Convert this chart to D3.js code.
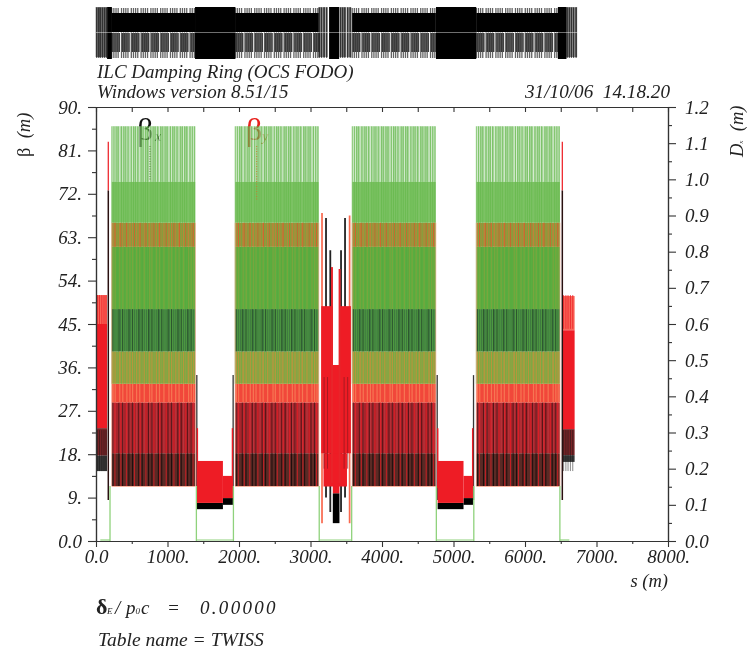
<!DOCTYPE html>
<html>
<head>
<meta charset="utf-8">
<script src="https://cdn.jsdelivr.net/npm/d3@7"></script>
<style>
  html, body { margin: 0; padding: 0; background: #fff; }
  svg { display: block; filter: blur(0.55px); }
  text { font-family: "Liberation Serif", serif; font-style: italic; fill: #222; }
  .tick text { font-size: 19px; }
</style>
</head>
<body>
<div id="chart"></div>
<script>
// ----------------------
// DATA
// ----------------------
const sTicks = [0, 1000, 2000, 3000, 4000, 5000, 6000, 7000, 8000];
const sLabels = ["0.0", "1000.", "2000.", "3000.", "4000.", "5000.", "6000.", "7000.", "8000."];
const sMinor = [500, 1500, 2500, 3500, 4500, 5500, 6500, 7500];
const betaTicks = [0, 9, 18, 27, 36, 45, 54, 63, 72, 81, 90];
const betaLabels = ["0.0", "9.", "18.", "27.", "36.", "45.", "54.", "63.", "72.", "81.", "90."];
const betaMinor = [4.5, 13.5, 22.5, 31.5, 40.5, 49.5, 58.5, 67.5, 76.5, 85.5];
const dispTicks = [0, 0.1, 0.2, 0.3, 0.4, 0.5, 0.6, 0.7, 0.8, 0.9, 1.0, 1.1, 1.2];
const dispMinor = [0.05, 0.15, 0.25, 0.35, 0.45, 0.55, 0.65, 0.75, 0.85, 0.95, 1.05, 1.15];

// the four FODO arcs: start of each, all the same length
const arcStarts = [220, 1946, 3583, 5319];
const arcLength = 1170;

// envelope levels in the arcs, bottom to top, and what is showing in each band
const bandLevels = [11.4, 18.2, 28.7, 32.6, 39.3, 48.1, 61, 66, 74.5, 86];
const bandColors = ["#5a2a25", "#a8242b", "#f1473a", "#97a044", "#3e7a40", "#58a93f", "#a28f3a", "#7cc264", "#62b54e"];

// cell positions inside one arc, metres from the arc start
const cellOffsets = [0, 30, 60, 90, 137, 167, 197, 227, 274, 304, 334, 364, 411, 441, 471, 501, 548, 578, 608, 638,
  685, 715, 745, 775, 822, 852, 882, 912, 959, 989, 1019, 1049, 1096, 1126, 1156];
const whiteGaps = [18, 48, 112, 155, 212, 255, 292, 348, 392, 455, 530, 562, 625, 668, 730, 800, 838, 895, 942, 1005, 1075, 1112, 1145];
const blackCells = [15, 100, 152, 240, 290, 378, 426, 515, 562, 652, 700, 788, 836, 925, 972, 1062, 1110];
const redCells = [45, 128, 205, 318, 398, 478, 590, 672, 762, 870, 948, 1035, 1138];

// wiggler straights: [s start, s end, betay top, betay bottom, betax bottom]
const wigglers = [
  [1412, 1775, 16.6, 7.9, 6.6], [1775, 1915, 13.5, 8.9, 7.5],
  [4778, 5140, 16.6, 7.9, 6.6], [5140, 5272, 13.5, 8.9, 7.5]
];
// D goes from zero up to the arc value at these points
const dispEdges = [196, 1404, 1922, 3122, 3576, 4760, 5284, 6488];
// D is zero along the straights
const dispZero = [[60, 196], [1404, 1922], [3122, 3576], [4760, 5284], [6488, 6620]];
// black lines at the ends of the wigglers: [s, top, bottom]
const xEdgeSpikes = [[1410, 34.4, 8.5], [1918, 34.4, 8.5], [4772, 34.4, 8.5], [5280, 34.4, 8.5]];
const yEdgeSpikes = [[1418, 23.4, 11], [1908, 23.4, 11], [4780, 23.4, 11], [5268, 23.4, 11]];

// injection / extraction ends: [s start, s end, pale top, solid top, dark top, grey top, bottom]
const endBlocks = [
  [0, 155, 51, 45, 23.4, 17.7, 14.5],
  [6518, 6694, 50.8, 43.7, 23.2, 17.8, 16.4]
];
const endStripes = [22, 50, 82, 112, 140, 6540, 6572, 6602, 6635, 6668];
// spikes next to the end blocks: [s, betay top, betax top, betax bottom]
const endSpikes = [[172, 82.8, 72.7, 8.5], [6522, 82.8, 72.7, 8.5]];

// centre straight
const centreBody = [[3150, 3312, 48.7, 18.2], [3405, 3565, 48.7, 18.2], [3312, 3405, 36.5, 9.9], [3182, 3510, 18.2, 11.3]];
const centreBlack = [[3312, 3405, 9.9, 3.7]];
const centreRedSpikes = [[3161, 68, 3.7], [3547, 67.5, 3.7], [3300, 56.8, 12], [3407, 56.4, 12]];
const centreBlackSpikes = [[3217, 67, 9], [3483, 67, 9], [3277, 60.3, 6], [3427, 60.3, 6]];
const centreDarkStripes = [3190, 3238, 3470, 3520];

// lattice strip, magnets outside the arcs
const stripSolid = [[1385, 1950], [4755, 5318], [155, 222], [3260, 3400], [6460, 6580]];
const stripEnds = [10, 38, 62, 90, 118, 145, 3125, 3155, 3190, 3225, 3420, 3450, 3480, 3520, 3555, 6590, 6620, 6650, 6680, 6715];

const width = 747, height = 650;
const margin = { top: 107, right: 79, bottom: 109, left: 96 };

const svg = d3.select("#chart").append("svg")
  .attr("width", width)
  .attr("height", height);

const x = d3.scaleLinear().domain([0, 8000]).range([margin.left, width - margin.right]);
const y = d3.scaleLinear().domain([0, 90]).range([height - margin.bottom, margin.top]);
const yD = d3.scaleLinear().domain([0, 1.2]).range([height - margin.bottom, margin.top]);

// vertical lines: rows are [s, top, bottom]
function vlines(rows, color, w, op) {
  svg.append("g").selectAll("line").data(rows).enter().append("line")
    .attr("x1", d => x(d[0])).attr("x2", d => x(d[0]))
    .attr("y1", d => y(d[1])).attr("y2", d => y(d[2]))
    .attr("stroke", color).attr("stroke-width", w).attr("opacity", op);
}
// blocks: rows are [s0, s1, top, bottom]
function blocks(rows, color, op) {
  svg.append("g").selectAll("rect").data(rows).enter().append("rect")
    .attr("x", d => x(d[0]))
    .attr("width", d => x(d[1]) - x(d[0]))
    .attr("y", d => y(d[2]))
    .attr("height", d => y(d[3]) - y(d[2]))
    .attr("fill", color).attr("opacity", op);
}
// repeat offsets over all four arcs
function inArcs(offsets, top, bottom) {
  return arcStarts.flatMap(a => offsets.map(o => [a + o, top, bottom]));
}

// ----------------------
// LATTICE STRIP
// ----------------------
const stripTop = 7, stripMid = 32, stripBot = 59;
const strip = svg.append("g");
const latticeCells = arcStarts.flatMap(a => cellOffsets.map(o => a + o));
strip.selectAll(".tip").data(latticeCells.concat(stripEnds)).enter().append("line")
  .attr("x1", d => x(d)).attr("x2", d => x(d))
  .attr("y1", stripTop + 1).attr("y2", stripBot - 1)
  .attr("stroke", "#222").attr("stroke-width", 1.3).attr("opacity", 0.7);
strip.selectAll(".core").data(latticeCells).enter().append("line")
  .attr("x1", d => x(d) + 1.1).attr("x2", d => x(d) + 1.1)
  .attr("y1", stripMid + 1).attr("y2", stripBot - 7)
  .attr("stroke", "#111").attr("stroke-width", 1.5).attr("opacity", 0.8);
strip.selectAll(".bar").data(arcStarts).enter().append("rect")
  .attr("x", d => x(d)).attr("width", x(arcLength) - x(0))
  .attr("y", 13).attr("height", stripMid - 13).attr("fill", "#000");
strip.selectAll(".solid").data(stripSolid).enter().append("rect")
  .attr("x", d => x(d[0])).attr("width", d => x(d[1]) - x(d[0]))
  .attr("y", stripTop).attr("height", stripBot - stripTop).attr("fill", "#000");
strip.selectAll(".endbar").data(stripEnds).enter().append("line")
  .attr("x1", d => x(d)).attr("x2", d => x(d))
  .attr("y1", stripTop).attr("y2", stripBot - 2)
  .attr("stroke", "#222").attr("stroke-width", 2).attr("opacity", 0.75);
strip.append("line")
  .attr("x1", x(0)).attr("x2", x(6735)).attr("y1", stripMid + 0.5).attr("y2", stripMid + 0.5)
  .attr("stroke", "#fff").attr("stroke-width", 0.8).attr("opacity", 0.55);

// ----------------------
// LEGEND (green bands are laid over it further down)
// ----------------------
svg.append("text").attr("x", 137).attr("y", 140).text("β")
  .style("font-size", "32px").style("font-style", "normal").style("fill", "#111");
svg.append("text").attr("x", 155).attr("y", 141).text("x")
  .style("font-size", "14px").style("fill", "#111");
svg.append("text").attr("x", 246).attr("y", 140).text("β")
  .style("font-size", "32px").style("font-style", "normal").style("fill", "#e8201c");
svg.append("text").attr("x", 262).attr("y", 141).text("y")
  .style("font-size", "14px").style("fill", "#d8602a");

// ----------------------
// ARCS
// ----------------------
arcStarts.forEach(a => {
  const rows = bandColors.map((c, i) => [a, a + arcLength, bandLevels[i + 1], bandLevels[i]]);
  svg.append("g").selectAll("rect").data(rows).enter().append("rect")
    .attr("x", d => x(d[0]))
    .attr("width", d => x(d[1]) - x(d[0]))
    .attr("y", d => y(d[2]))
    .attr("height", d => y(d[3]) - y(d[2]))
    .attr("fill", (d, i) => bandColors[i])
    .attr("opacity", (d, i) => i === bandColors.length - 1 ? 0.58 : 1);
});

// stripes: green D over the upper bands, white gaps at the top
vlines(inArcs(whiteGaps, 86, 74.5), "#fff", 0.9, 0.6);
vlines(inArcs(cellOffsets, 86, 32.6), "#5cb542", 0.9, 0.6);
vlines(inArcs(whiteGaps, 61, 48.1), "#86a63e", 1.3, 0.7);
vlines(inArcs(whiteGaps, 66, 61), "#e8703a", 0.9, 0.5);
vlines(inArcs(redCells, 66, 61), "#e84a28", 0.9, 0.65);
vlines(inArcs(whiteGaps, 39.3, 32.6), "#cc9038", 1.2, 0.6);
vlines(inArcs(whiteGaps, 32.6, 28.7), "#f98a5e", 1.2, 0.7);
vlines(inArcs(blackCells, 48.1, 39.3), "#1e3a20", 0.9, 0.6);
vlines(inArcs(whiteGaps, 28.7, 18.2), "#c9424a", 1.2, 0.55);
vlines(inArcs(blackCells, 28.7, 18.2), "#0d0808", 1, 0.55);
vlines(inArcs(blackCells, 18.2, 11.4), "#0d0808", 1, 0.8);
vlines(inArcs(redCells, 28.7, 11.4), "#ee1c25", 0.9, 0.8);
vlines(inArcs([0, arcLength], 66, 11.4), "#f5a48c", 0.8, 0.8);
svg.append("g").selectAll("line").data(arcStarts).enter().append("line")
  .attr("x1", d => x(d)).attr("x2", d => x(d + arcLength))
  .attr("y1", y(11.3)).attr("y2", y(11.3))
  .attr("stroke", "#f5a48c").attr("stroke-width", 0.8);

// dotted leaders from the legend symbols
svg.append("line").attr("x1", 150).attr("x2", 150).attr("y1", 146).attr("y2", 180)
  .attr("stroke", "#5a7a40").attr("stroke-width", 1).attr("stroke-dasharray", "1,1.5");
svg.append("line").attr("x1", 256.7).attr("x2", 256.7).attr("y1", 146).attr("y2", 200)
  .attr("stroke", "#c08030").attr("stroke-width", 1).attr("stroke-dasharray", "1,1.5");

// ----------------------
// WIGGLER STRAIGHTS
// ----------------------
vlines(xEdgeSpikes, "#222", 1.3, 0.9);
vlines(yEdgeSpikes, "#ee1c25", 1.4, 1);
blocks(wigglers.map(d => [d[0], d[1], d[3], d[4]]), "#000", 1);
blocks(wigglers.map(d => [d[0], d[1], d[2], d[3]]), "#ee1c25", 1);

// ----------------------
// ENDS
// ----------------------
blocks(endBlocks.map(d => [d[0], d[1], d[2], d[3]]), "#f9695a", 1);
blocks(endBlocks.map(d => [d[0], d[1], d[3], d[4]]), "#ee1c25", 1);
blocks(endBlocks.map(d => [d[0], d[1], d[4], d[5]]), "#7a2427", 1);
blocks(endBlocks.map(d => [d[0], d[1], d[5], d[6]]), "#3a3a3a", 1);
vlines(endStripes.map(s => [s, 51, 44]), "#ee1c25", 1, 0.8);
vlines(endStripes.map(s => [s, 23, 14.5]), "#111", 1, 0.5);
vlines(endSpikes.map(d => [d[0], d[1], d[2]]), "#ee2a30", 1.3, 1);
vlines(endSpikes.map(d => [d[0], d[2], d[3]]), "#2a1010", 1.5, 1);

// ----------------------
// CENTRE STRAIGHT
// ----------------------
vlines(centreBlackSpikes, "#222", 1.8, 1);
vlines(centreRedSpikes.slice(0, 2), "#f9684e", 1.7, 1);
blocks(centreBlack, "#000", 1);
blocks(centreBody, "#ee1c25", 1);
vlines(centreRedSpikes.slice(2), "#e8242a", 2, 1);
vlines(centreDarkStripes.map(s => [s, 34, 15]), "#8a1a20", 1, 0.7);

// ----------------------
// DISPERSION
// ----------------------
vlines(dispEdges.map(s => [s, 11.4, 0]), "#8fd27c", 1.3, 1);
svg.append("g").selectAll("line").data(dispZero).enter().append("line")
  .attr("x1", d => x(d[0])).attr("x2", d => x(d[1]))
  .attr("y1", yD(0) - 1).attr("y2", yD(0) - 1)
  .attr("stroke", "#8fd27c").attr("stroke-width", 1.2);

// ----------------------
// AXES
// ----------------------
function styleAxis(g) {
  g.selectAll(".domain").attr("stroke", "#333").attr("stroke-width", 1.2);
  g.selectAll(".tick line").attr("stroke", "#333").attr("stroke-width", 1.1);
}
svg.append("g").attr("transform", `translate(0,${y(0)})`)
  .call(d3.axisBottom(x).tickValues(sTicks).tickSize(6).tickSizeOuter(0).tickPadding(3)
    .tickFormat((d, i) => sLabels[i]))
  .call(styleAxis);
svg.append("g").attr("transform", `translate(0,${y(0)})`)
  .call(d3.axisBottom(x).tickValues(sMinor).tickSize(3).tickSizeOuter(0).tickFormat(""))
  .call(styleAxis);
svg.append("g").attr("transform", `translate(0,${y(90)})`)
  .call(d3.axisTop(x).tickValues(sTicks.concat(sMinor)).tickSize(-5).tickSizeOuter(0).tickFormat(""))
  .call(styleAxis);
svg.append("g").attr("transform", `translate(${x(0)},0)`)
  .call(d3.axisLeft(y).tickValues(betaTicks).tickSize(8).tickSizeOuter(0).tickPadding(6)
    .tickFormat((d, i) => betaLabels[i]))
  .call(styleAxis);
svg.append("g").attr("transform", `translate(${x(0)},0)`)
  .call(d3.axisLeft(y).tickValues(betaMinor).tickSize(4).tickSizeOuter(0).tickFormat(""))
  .call(styleAxis);
svg.append("g").attr("transform", `translate(${x(8000)},0)`)
  .call(d3.axisRight(yD).tickValues(dispTicks).tickSize(8).tickSizeOuter(0).tickPadding(9)
    .tickFormat(d3.format(".1f")))
  .call(styleAxis);
svg.append("g").attr("transform", `translate(${x(8000)},0)`)
  .call(d3.axisRight(yD).tickValues(dispMinor).tickSize(4).tickSizeOuter(0).tickFormat(""))
  .call(styleAxis);
svg.selectAll(".tick text").style("font-family", '"Liberation Serif", serif').style("font-style", "italic");

// ----------------------
// TEXT
// ----------------------
function label(tx, ty, str, size, anchor) {
  return svg.append("text").attr("x", tx).attr("y", ty).text(str)
    .style("font-size", size + "px").attr("text-anchor", anchor || "start");
}
label(97, 78, "ILC Damping Ring (OCS FODO)", 19);
label(97, 98, "Windows version 8.51/15", 19);
label(670, 98, "31/10/06  14.18.20", 19.2, "end").attr("xml:space", "preserve");
label(668, 587, "s (m)", 18.5, "end");
label(98, 646, "Table name = TWISS", 19.5);

const delta = svg.append("text").attr("y", 614).style("font-size", "19px");
delta.append("tspan").attr("x", 96).text("δ").style("font-style", "normal").style("font-size", "22px").style("font-weight", "bold");
delta.append("tspan").attr("x", 107).text("E").style("font-size", "9px");
delta.append("tspan").attr("x", 115).text("/");
delta.append("tspan").attr("x", 126).text("p");
delta.append("tspan").text("0").style("font-size", "9px");
delta.append("tspan").attr("dx", 1).text("c");
delta.append("tspan").attr("x", 167).text("=");
delta.append("tspan").attr("x", 200).text("0.00000").style("letter-spacing", "2.3px");

const yl = svg.append("text").attr("transform", "translate(30,157) rotate(-90)").attr("xml:space", "preserve")
  .style("font-size", "18.5px");
yl.append("tspan").text("β").style("font-style", "normal");
yl.append("tspan").text("  (m)");

const dl = svg.append("text").attr("transform", "translate(743,157) rotate(-90)").attr("xml:space", "preserve")
  .style("font-size", "18.5px");
dl.append("tspan").text("D");
dl.append("tspan").text("x").style("font-size", "7px");
dl.append("tspan").text("  (m)");
</script>
</body>
</html>
